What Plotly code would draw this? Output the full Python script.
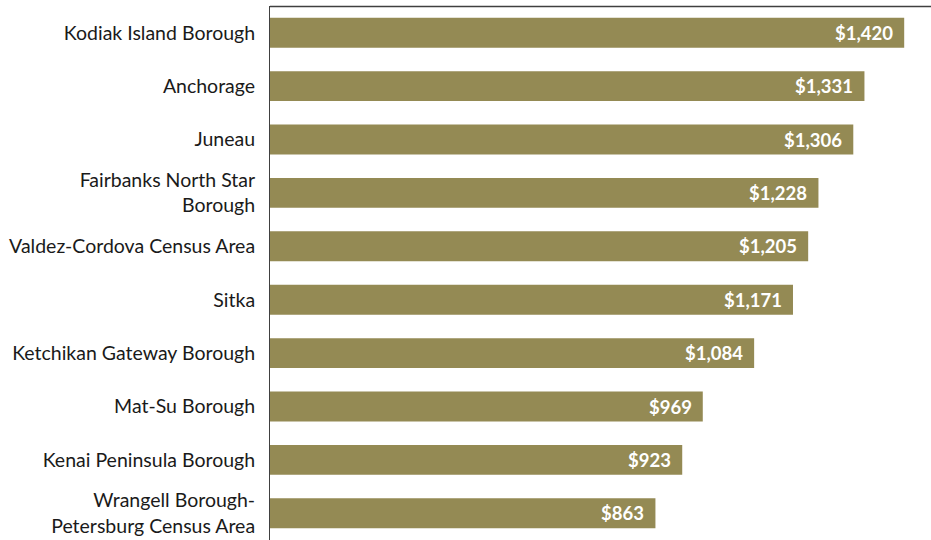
import plotly.graph_objects as go

categories = [
    "Kodiak Island Borough",
    "Anchorage",
    "Juneau",
    "Fairbanks North Star<br>Borough",
    "Valdez-Cordova Census Area",
    "Sitka",
    "Ketchikan Gateway Borough",
    "Mat-Su Borough",
    "Kenai Peninsula Borough",
    "Wrangell Borough-<br>Petersburg Census Area",
]
values = [1420, 1331, 1306, 1228, 1205, 1171, 1084, 969, 923, 863]
labels = ["${:,}".format(v) for v in values]

BAR = "#948A54"

fig = go.Figure(go.Bar(
    x=values, y=categories, orientation="h",
    marker=dict(color=BAR, line=dict(width=0)),
    width=0.56, hoverinfo="skip",
))

for c, v, t in zip(categories, values, labels):
    fig.add_annotation(x=v, y=c, text=t, showarrow=False, xanchor="right",
                       xshift=-9, font=dict(family="Lato", size=18.5, color="white",
                                           weight="bold"))

fig.add_shape(type="line", xref="paper", yref="paper", x0=0, x1=1.02, y0=0.999, y1=0.999,
              layer="above", line=dict(color="#404040", width=1.5))

fig.update_layout(
    width=931, height=540,
    margin=dict(l=270, r=0, t=6, b=0),
    plot_bgcolor="white", paper_bgcolor="white",
    showlegend=False,
    font=dict(family="Lato", size=19.5, color="#1a1a1a"),
    xaxis=dict(range=[0, 1480], showline=False, showgrid=False, zeroline=False,
               showticklabels=False, ticks="", automargin=False),
    yaxis=dict(autorange="reversed", showline=True, linecolor="#404040", linewidth=1,
               showgrid=False, zeroline=False, ticks="", ticklabelstandoff=10,
               automargin=False),
)

fig.write_html("out.html", config={"displayModeBar": False},
               post_script="document.body.style.margin='0';")
